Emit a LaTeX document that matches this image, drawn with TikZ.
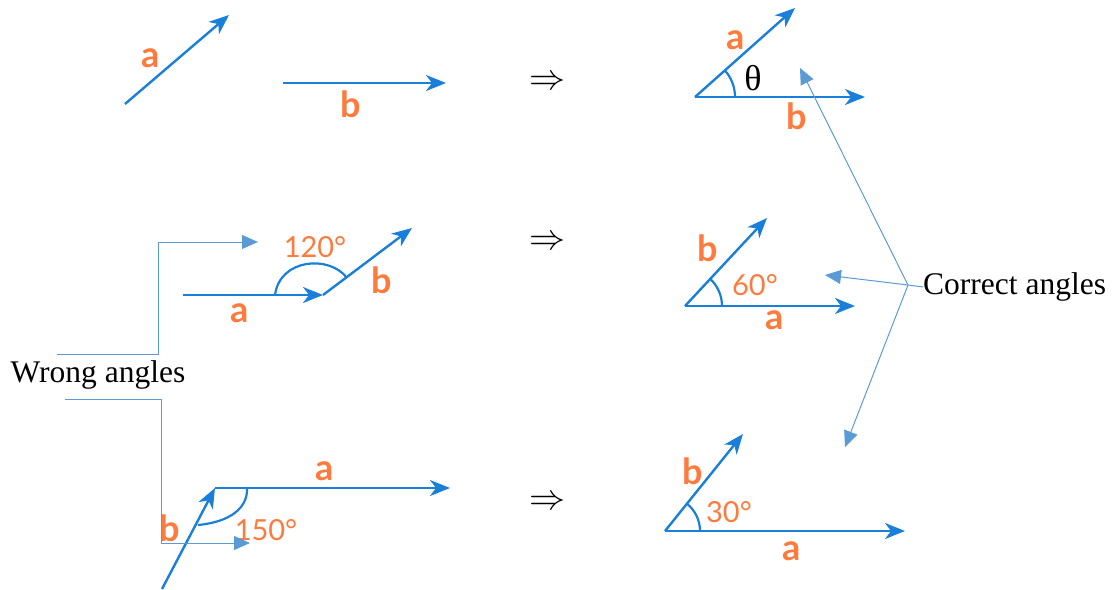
\documentclass[tikz,border=0pt]{standalone}
\usepackage{fontspec}
\setmainfont{Liberation Serif}
\newfontfamily\labfont{Lato}
\usetikzlibrary{arrows.meta,calc}
\definecolor{vblue}{HTML}{1A7FD8}
\definecolor{lorange}{HTML}{FF7A3D}
\definecolor{cblue}{HTML}{5B9BD5}
\begin{document}
\begin{tikzpicture}[x=1pt,y=1pt,
  vec/.style={draw=vblue,line width=2.4pt,-{Stealth[length=20pt,width=16pt,inset=6pt]}},
  angarc/.style={draw=vblue,line width=2.2pt},
  lbl/.style={text=lorange,font=\labfont\bfseries\fontsize{36}{36}\selectfont,inner sep=0pt},
  deg/.style={text=lorange,font=\labfont\fontsize{29}{29}\selectfont,inner sep=0pt},
  conn/.style={draw=cblue,line width=1pt,-{Triangle[length=16pt,width=14pt]}},
  connline/.style={draw=cblue,line width=1pt},
  imp/.style={inner sep=0pt},
  word/.style={inner sep=0pt,font=\fontsize{31.5}{32}\selectfont}]
\useasboundingbox (0,0) rectangle (1116,-589);
% ---------- row 1 left
\coordinate (a1s) at (125,-104);
\coordinate (a1e) at (229,-15);
\coordinate (b1s) at (283,-83);
\coordinate (b1e) at (446,-83);
\draw[vec] (a1s) -- (a1e);
\draw[vec] (b1s) -- (b1e);
\node[lbl] (la1) at (151,-58) {a};
\node[lbl] (lb1) at (351,-104) {b};
\node[imp] (imp1) at (547,-83) {\scalebox{3.6}{$\Rightarrow$}};
% ---------- row 1 right
\coordinate (O1) at (695,-97);
\coordinate (a2e) at (795,-8);
\coordinate (b2e) at (865,-97);
\draw[vec] (O1) -- (a2e);
\draw[vec] (O1) -- (b2e);
\draw[angarc] ($(O1)+(40,0)$) arc[start angle=0,end angle=41.7,radius=40];
\node[lbl] (la2) at (736,-40) {a};
\node[inner sep=0pt,font=\fontsize{36}{36}\selectfont] (th) at (753,-78) {θ};
\node[lbl] (lb2) at (797,-116) {b};
% ---------- row 2 left
\coordinate (a3s) at (183,-295);
\coordinate (O2) at (323,-295);
\coordinate (b3e) at (412,-228);
\draw[vec] (a3s) -- (O2);
\draw[vec] (O2) -- (b3e);
\draw[angarc] (275,-295) .. controls (280,-258) and (330,-255) .. (347,-278);
\node[deg] (d120) at (315,-247) {120°};
\node[lbl] (lb3) at (382,-280) {b};
\node[lbl] (la3) at (240,-313) {a};
\node[imp] (imp2) at (547,-243) {\scalebox{3.6}{$\Rightarrow$}};
% ---------- row 2 right
\coordinate (O4) at (685,-306);
\coordinate (a4e) at (855,-306);
\coordinate (b4e) at (767,-218);
\draw[vec] (O4) -- (a4e);
\draw[vec] (O4) -- (b4e);
\draw[angarc] ($(O4)+(37,0)$) arc[start angle=0,end angle=47,radius=37];
\node[lbl] (lb4) at (708,-248) {b};
\node[deg] (d60) at (755,-285) {60°};
\node[lbl] (la4) at (775,-320) {a};
% ---------- row 3 left
\coordinate (O3) at (215,-488);
\coordinate (a5e) at (450,-488);
\coordinate (b5s) at (162,-589);
\draw[vec] (O3) -- (a5e);
\draw[vec] (b5s) -- (O3);
\draw[angarc] (247,-488) .. controls (248,-508) and (230,-522) .. (198,-525);
\node[lbl] (la5) at (325,-471) {a};
\node[lbl] (lb5) at (170,-528) {b};
\node[deg] (d150) at (266,-530) {150°};
\node[imp] (imp3) at (547,-503) {\scalebox{3.6}{$\Rightarrow$}};
% ---------- row 3 right
\coordinate (O5) at (665,-531);
\coordinate (a6e) at (905,-531);
\coordinate (b6e) at (743,-434);
\draw[vec] (O5) -- (a6e);
\draw[vec] (O5) -- (b6e);
\draw[angarc] ($(O5)+(35,0)$) arc[start angle=0,end angle=51,radius=35];
\node[lbl] (lb6) at (693,-471) {b};
\node[deg] (d30) at (729,-512) {30°};
\node[lbl] (la6) at (792,-551) {a};
% ---------- wrong angles
\node[word] (wrong) at (98,-375) {Wrong angles};
\coordinate (w1s) at (57,-354);
\coordinate (w1a) at (158,-354);
\coordinate (w1b) at (158,-242);
\coordinate (w1e) at (258,-242);
\coordinate (w2s) at (65,-399);
\coordinate (w2a) at (161,-399);
\coordinate (w2b) at (161,-543);
\coordinate (w2e) at (250,-543);
\draw[conn] (w1s) -- (w1a) -- (w1b) -- (w1e);
\draw[conn] (w2s) -- (w2a) -- (w2b) -- (w2e);
% ---------- correct angles
\node[word,anchor=west] (correct) at (923,-287) {Correct angles};
\coordinate (hub) at (908,-285);
\coordinate (c1) at (800,-68);
\coordinate (c2) at (825,-275);
\coordinate (c3) at (845,-447);
\draw[connline] (hub) -- (correct.west);
\draw[conn] (hub) -- (c1);
\draw[conn] (hub) -- (c2);
\draw[conn] (hub) -- (c3);
\end{tikzpicture}
\end{document}
